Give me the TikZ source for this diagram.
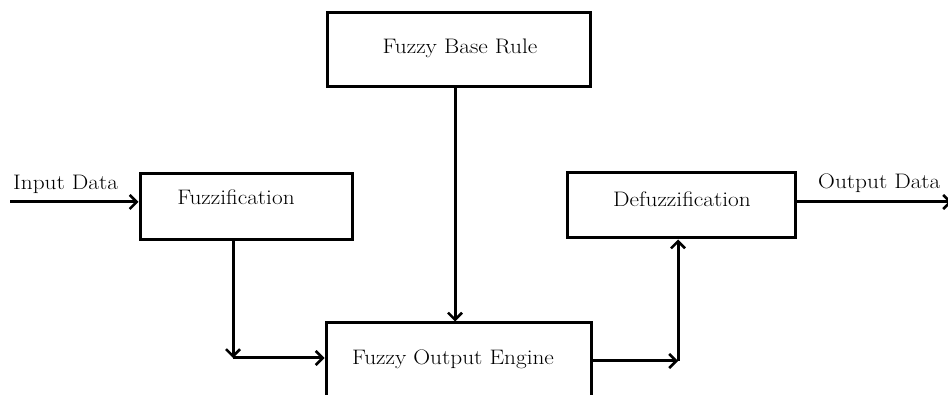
\documentclass[tikz,border=0pt]{standalone}
\usetikzlibrary{arrows.meta}

\begin{document}
\begin{tikzpicture}[x=1pt, y=-1pt,
  block/.style={draw, line width=3pt, rectangle, inner sep=0pt},
  lbl/.style={inner sep=0pt, xscale=1.11, font=\fontsize{21}{25}\selectfont},
  flow/.style={line width=3pt, -{Straight Barb[length=7pt, width=14pt, line width=2.5pt]}},
  plain/.style={line width=3pt}]

  \useasboundingbox (0,0) rectangle (948,395);
  \clip (0,0) rectangle (948,395);

  % blocks
  \node[block, minimum width=263pt, minimum height=74pt] (rule) at (458.5,50) {};
  \node[block, minimum width=212pt, minimum height=66pt] (fuzz) at (246,207) {};
  \node[block, minimum width=228pt, minimum height=65pt] (defuzz) at (681,205.5) {};
  \node[block, minimum width=265pt, minimum height=120pt] (engine) at (458.5,383) {};

  % block captions
  \node[lbl, anchor=base] (ruletext) at (460,54) {Fuzzy Base Rule};
  \node[lbl, anchor=base] (fuzztext) at (236,205) {Fuzzification};
  \node[lbl, anchor=base] (defuzztext) at (682,207) {Defuzzification};
  \node[lbl, anchor=base] (enginetext) at (453,365) {Fuzzy Output Engine};

  % external signals
  \node[lbl, anchor=base west] (inlabel) at (13,190) {Input Data};
  \node[lbl, anchor=base west] (outlabel) at (818,189) {Output Data};

  % junction points
  \coordinate (in) at (10,202);
  \coordinate (out) at (952,202);
  \coordinate (c1) at (233,358);
  \coordinate (c2) at (678,361);
  \coordinate (c3) at (455,0);

  % connectors
  \draw[flow] (in) -- (in -| fuzz.west);
  \draw[flow] (c1 |- fuzz.south) -- (c1);
  \draw[flow] (c1) -- (c1 -| engine.west);
  \draw[flow] (c3 |- rule.south) -- (c3 |- engine.north);
  \draw[flow] (c2 -| engine.east) -- (c2);
  \draw[flow] (c2) -- (c2 |- defuzz.south);
  \draw[flow] (out -| defuzz.east) -- (out);
\end{tikzpicture}
\end{document}
